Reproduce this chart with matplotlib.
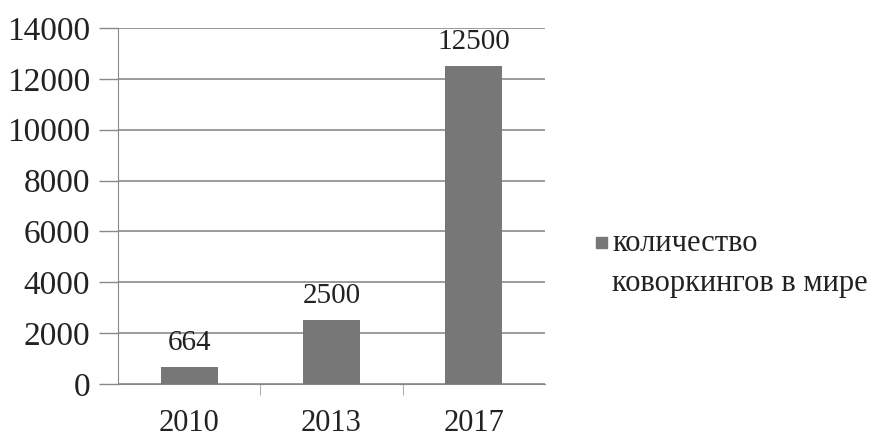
import matplotlib
matplotlib.use("Agg")
import matplotlib.pyplot as plt
from matplotlib.patches import Rectangle

categories = ["2010", "2013", "2017"]
values = [664, 2500, 12500]
yticks = [0, 2000, 4000, 6000, 8000, 10000, 12000, 14000]
series_lines = ["количество", "коворкингов в мире"]

plt.rcParams['font.family'] = ['Liberation Serif', 'DejaVu Serif']

fig = plt.figure(figsize=(8.86, 4.4), dpi=100)
ax = fig.add_axes([118/886, 1-384/440, (545-118)/886, (384-28)/440])

x = range(len(categories))
bars = ax.bar(x, values, width=0.4, color="#777777", zorder=3)
ax.set_xlim(-0.5, len(categories) - 0.5)
ax.set_ylim(0, 14000)
ax.set_yticks(yticks)
ax.set_yticklabels([str(v) for v in yticks], fontsize=24, color="#222222")
ax.set_xticks(list(x))
ax.set_xticklabels(categories, fontsize=22, color="#222222")
ax.tick_params(axis='x', length=0, pad=18)
ax.tick_params(axis='y', length=14, width=1, color="#888888", pad=6)
ax.set_xticks([0.5, 1.5], minor=True)
ax.tick_params(axis='x', which='minor', length=8, color="#999999")

ax.yaxis.grid(True, color="#8a8a8a", linewidth=1.2, zorder=0)
for s in ["top", "right"]:
    ax.spines[s].set_visible(False)
ax.spines["left"].set_color("#888888")
ax.spines["bottom"].set_color("#888888")

for b, v in zip(bars, values):
    ax.annotate(str(v), (b.get_x() + b.get_width()/2, v), xytext=(0, 8),
                textcoords="offset points", ha="center", va="bottom",
                fontsize=21, color="#222222")

# legend: marker aligned with first line
fig.patches.append(Rectangle((596/886, 1-248/440), 11/886, 11/440,
                             transform=fig.transFigure, color="#777777",
                             figure=fig))
fig.text(612/886, 1-243/440, series_lines[0], fontsize=22, va="center",
         ha="left", color="#222222")
fig.text(612/886, 1-283/440, series_lines[1], fontsize=22, va="center",
         ha="left", color="#222222")

fig.savefig("out.png", dpi=100)
